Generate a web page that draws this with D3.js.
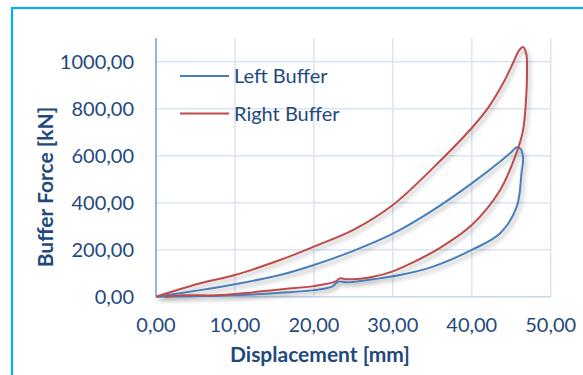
<!DOCTYPE html>
<html lang="en">

<head>
    <meta charset="UTF-8">
    <title>Buffer Force vs Displacement</title>
    <script src="https://d3js.org/d3.v7.min.js"></script>
    <style>
        body {
            margin: 0;
            background: #ffffff;
            font-family: Lato, "Open Sans", sans-serif;
        }

        .tick-label {
            font-size: 20px;
            fill: #1f497d;
        }

        .axis-title {
            font-size: 21px;
            font-weight: bold;
            fill: #1f497d;
        }

        .legend-text {
            font-size: 20px;
            fill: #1f497d;
        }

        .line {
            fill: none;
            stroke-width: 2px;
        }
    </style>
</head>

<body>
    <svg id="svg" width="583" height="375"></svg>

    <script>
        // Values (displacement in mm, force in kN), in loop order
        const leftDisp = [0, 5.6, 10, 15.7, 20, 25, 30, 35, 40, 43.6, 45.0, 45.7, 46.2, 46.5, 46.3, 45.7, 43.6, 40, 35.1, 30.9, 27.5, 24.2, 23.1, 22.3, 20, 15.7, 10, 5, 0];
        const leftForce = [0, 28, 53, 92, 135, 195, 268, 366, 482, 575, 615, 636, 628, 590, 525, 383, 270, 199, 128, 92, 74, 61, 64, 43, 28, 17, 6, 2, 0];

        const rightDisp = [0, 5.6, 10, 15.7, 20, 25, 30, 35, 40, 42, 44, 45.3, 46.0, 46.5, 46.9, 47.0, 46.9, 46.5, 45.7, 43.6, 40, 35.6, 32.5, 30, 27.5, 24.2, 23.3, 22.7, 20, 15.7, 11.9, 7.7, 3.4, 1.1];
        const rightForce = [0, 57, 92, 156, 213, 284, 390, 545, 718, 800, 910, 1000, 1048, 1062, 1035, 950, 851, 709, 615, 454, 305, 200, 145, 108, 85, 74, 78, 64, 45, 31, 17, 6, 6, 0];

        const xTicks = [0, 10, 20, 30, 40, 50];
        const yTicks = [0, 200, 400, 600, 800, 1000];
        const seriesNames = ["Left Buffer", "Right Buffer"];
        const seriesColors = ["#4a7ebb", "#be4b48"];

        const svg = d3.select("#svg");

        // Plot area
        const plotLeft = 156, plotRight = 550.7, plotTop = 38.2, plotBottom = 296.7;

        const x = d3.scaleLinear().domain([0, 50]).range([plotLeft, plotRight]);
        const y = d3.scaleLinear().domain([0, 1100]).range([plotBottom, plotTop]);

        const fmt = v => d3.format(".2f")(v).replace(".", ",");

        // Outer frame (runs past the picture on the right and bottom)
        svg.append("rect")
            .attr("x", 12).attr("y", 8)
            .attr("width", 620).attr("height", 420)
            .attr("fill", "none")
            .attr("stroke", "#00b0f0")
            .attr("stroke-width", 2.2);

        // Drop shadow for the series lines
        const defs = svg.append("defs");
        const shadow = defs.append("filter").attr("id", "shadow")
            .attr("x", "-10%").attr("y", "-10%").attr("width", "130%").attr("height", "130%");
        shadow.append("feDropShadow")
            .attr("dx", 2).attr("dy", 3)
            .attr("stdDeviation", 2)
            .attr("flood-color", "#000")
            .attr("flood-opacity", 0.3);

        // Grid
        const grid = svg.append("g");
        grid.selectAll(".hgrid")
            .data(yTicks.filter(d => d > 0))
            .enter().append("line")
            .attr("x1", plotLeft).attr("x2", plotRight)
            .attr("y1", d => y(d)).attr("y2", d => y(d))
            .attr("stroke", "#d9e4f4").attr("stroke-width", 1.5);

        grid.selectAll(".vgrid")
            .data(xTicks.filter(d => d > 0))
            .enter().append("line")
            .attr("x1", d => x(d)).attr("x2", d => x(d))
            .attr("y1", plotTop).attr("y2", plotBottom)
            .attr("stroke", "#d9e4f4").attr("stroke-width", 1.5);

        // Axis lines
        svg.append("line")
            .attr("x1", plotLeft).attr("x2", plotRight)
            .attr("y1", y(0)).attr("y2", y(0))
            .attr("stroke", "#c6d7ee").attr("stroke-width", 1.5);
        svg.append("line")
            .attr("x1", plotLeft).attr("x2", plotLeft)
            .attr("y1", plotTop).attr("y2", plotBottom)
            .attr("stroke", "#8eb4e3").attr("stroke-width", 2);

        // Tick labels
        svg.selectAll(".ylab")
            .data(yTicks)
            .enter().append("text")
            .attr("class", "tick-label")
            .attr("x", 134)
            .attr("y", d => y(d))
            .attr("dy", "0.36em")
            .attr("text-anchor", "end")
            .text(fmt);

        svg.selectAll(".xlab")
            .data(xTicks)
            .enter().append("text")
            .attr("class", "tick-label")
            .attr("x", d => x(d))
            .attr("y", 332)
            .attr("text-anchor", "middle")
            .text(fmt);

        // Axis titles
        svg.append("text")
            .attr("class", "axis-title")
            .attr("x", 320).attr("y", 362)
            .attr("text-anchor", "middle")
            .text("Displacement [mm]");

        svg.append("text")
            .attr("class", "axis-title")
            .attr("transform", "translate(53,187) rotate(-90)")
            .attr("text-anchor", "middle")
            .text("Buffer Force [kN]");

        // Series
        const series = [
            leftDisp.map((d, i) => [d, leftForce[i]]),
            rightDisp.map((d, i) => [d, rightForce[i]])
        ];

        const line = d3.line()
            .x(d => x(d[0]))
            .y(d => y(d[1]))
            .curve(d3.curveCatmullRom.alpha(0.5));

        svg.append("g")
            .attr("filter", "url(#shadow)")
            .selectAll(".line")
            .data(series)
            .enter().append("path")
            .attr("class", "line")
            .attr("d", line)
            .attr("stroke", (d, i) => seriesColors[i]);

        // Legend
        const legend = svg.append("g");
        seriesNames.forEach((name, i) => {
            const ly = 76 + i * 37.5;
            legend.append("line")
                .attr("x1", 180).attr("x2", 229)
                .attr("y1", ly).attr("y2", ly)
                .attr("stroke", seriesColors[i])
                .attr("stroke-width", 2);
            legend.append("text")
                .attr("class", "legend-text")
                .attr("x", 234).attr("y", ly)
                .attr("dy", "0.36em")
                .text(name);
        });
    </script>

</body>

</html>
